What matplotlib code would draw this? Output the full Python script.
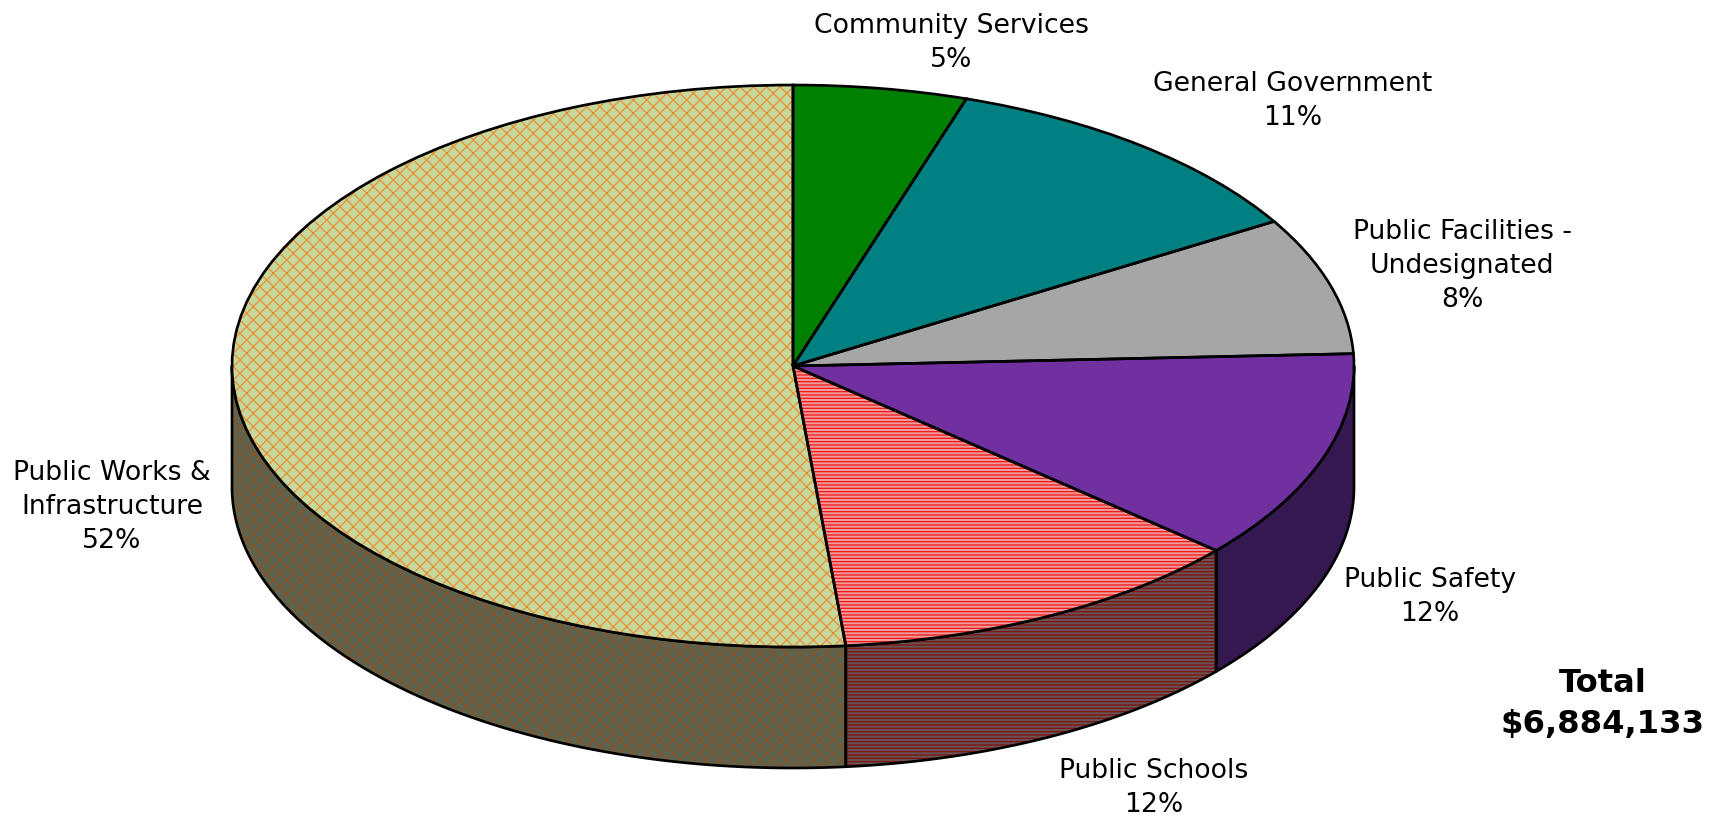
import numpy as np
import matplotlib
matplotlib.use("Agg")
import matplotlib.pyplot as plt
from matplotlib.patches import Polygon

# Capital budget shares by program, clockwise from twelve o'clock
programs = ["Community Services", "General Government", "Public Facilities -\nUndesignated",
            "Public Safety", "Public Schools", "Public Works &\nInfrastructure"]
shares = [5.0, 11.4, 7.9, 12.1, 12.1, 51.5]
percent_labels = ["5%", "11%", "8%", "12%", "12%", "52%"]
total_lines = ["Total", "$6,884,133"]

top_colors = ["#008000", "#008080", "#A6A6A6", "#7030A0", "#F09A9A", "#C6D89C"]
top_hatch = [None, None, None, None, "----", "xx"]
top_hatch_colors = [None, None, None, None, "#F01818", "#E8923A"]
side_colors = ["#004000", "#004040", "#535353", "#35184F", "#685252", "#5C6450"]
side_hatch_colors = [None, None, None, None, "#7E1212", "#8A5226"]

label_xy = [(951, 43), (1293, 101), (1462, 266), (1430, 597), (1154, 788), (112, 507)]
total_xy = [(1603, 683), (1603, 724)]

W, H, DPI = 1722, 817, 80
CX, CY, RX, RY, DEPTH = 793, 366, 561, 281, 121
LW = 2.4

plt.rcParams["font.family"] = "DejaVu Sans"
plt.rcParams["hatch.linewidth"] = 1.15

fig = plt.figure(figsize=(W / DPI, H / DPI), dpi=DPI, facecolor="white")
ax = fig.add_axes([0, 0, 1, 1])


def layered(verts, face, hatch, hatch_color, z):
    ax.add_patch(Polygon(verts, closed=True, facecolor=face, edgecolor="none", lw=0, zorder=z))
    if hatch:
        ax.add_patch(Polygon(verts, closed=True, facecolor="none", edgecolor=hatch_color,
                             hatch=hatch, lw=0, zorder=z + 0.1))
    ax.add_patch(Polygon(verts, closed=True, fill=False, edgecolor="black", lw=LW,
                         joinstyle="round", zorder=z + 0.2))


# Visible rim of the disc: everything on the lower half of the ellipse
edges = 90 - np.cumsum([0] + shares) * 3.6  # math angles, running clockwise
depth_units = DEPTH / RY
for i in range(len(shares)):
    hi = min(edges[i], 0)
    lo = max(edges[i + 1], -180)
    if hi <= lo:
        continue
    t = np.radians(np.linspace(hi, lo, 200))
    upper = np.column_stack([np.cos(t), np.sin(t)])
    lower = upper[::-1] - [0, depth_units]
    layered(np.vstack([upper, lower]), side_colors[i], top_hatch[i], side_hatch_colors[i], 1)

# Top face: fill, hatch and outline as three pie layers
fills, _ = ax.pie(shares, colors=top_colors, startangle=90, counterclock=False,
                  wedgeprops=dict(lw=0, edgecolor="none", zorder=3))
hatched, _ = ax.pie(shares, startangle=90, counterclock=False,
                    wedgeprops=dict(fill=False, lw=0, zorder=3.1))
for w, h, c in zip(hatched, top_hatch, top_hatch_colors):
    if h:
        w.set_hatch(h)
        w.set_edgecolor(c)
    else:
        w.set_visible(False)
ax.pie(shares, startangle=90, counterclock=False,
       wedgeprops=dict(fill=False, edgecolor="black", lw=LW, zorder=3.2))

# Stretch the unit circle into the tilted ellipse
ax.set_aspect("auto")
ax.set_xlim(-CX / RX, (W - CX) / RX)
ax.set_ylim((CY - H) / RY, CY / RY)
ax.axis("off")


def fig_xy(x, y):
    return x / W, 1 - y / H


for name, pct, (x, y) in zip(programs, percent_labels, label_xy):
    fx, fy = fig_xy(x, y)
    fig.text(fx, fy, f"{name}\n{pct}", ha="center", va="center", fontsize=24,
             linespacing=1.42, color="black")

for line, (x, y) in zip(total_lines, total_xy):
    fx, fy = fig_xy(x, y)
    fig.text(fx, fy, line, ha="center", va="center", fontsize=29, fontweight="bold", color="black")

fig.savefig("out.png", dpi=DPI)
